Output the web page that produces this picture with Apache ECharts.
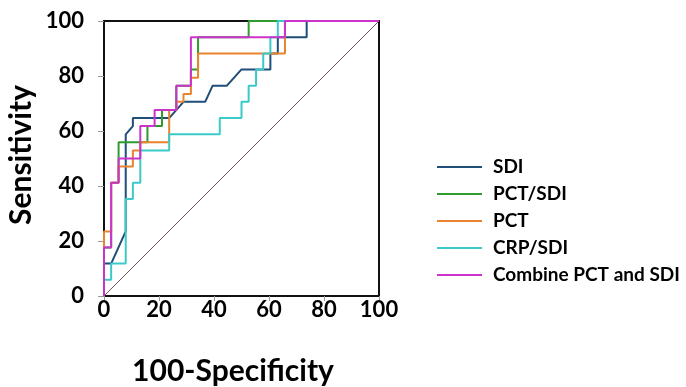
<!DOCTYPE html>
<html>
<head>
<meta charset="utf-8">
<script src="https://cdn.jsdelivr.net/npm/echarts@6/dist/echarts.min.js"></script>
<style>
  html, body { margin: 0; padding: 0; background: #fff; }
  #chart { width: 686px; height: 387px; }
</style>
</head>
<body>
<div id="chart"></div>
<script>
// ROC curves: [100-specificity, sensitivity]
const sdi = [
  [0, 0], [0, 11.8], [2.6, 11.8], [7.9, 23.5], [7.9, 58.8], [10.5, 61.8], [10.5, 64.7],
  [23.7, 64.7], [28.9, 70.6], [36.8, 70.6], [39.5, 76.5], [44.7, 76.5], [50, 82.4],
  [60.5, 82.4], [60.5, 88.2], [63.2, 88.2], [63.2, 94.1], [73.7, 94.1], [73.7, 100], [100, 100]
];
const pctSdi = [
  [0, 0], [0, 17.6], [2.6, 17.6], [2.6, 41.2], [5.3, 41.2], [5.3, 55.9], [15.8, 55.9],
  [15.8, 61.8], [21.1, 61.8], [21.1, 67.6], [26.3, 67.6], [26.3, 76.5], [31.6, 76.5],
  [31.6, 82.4], [34.2, 82.4], [34.2, 94.1], [52.6, 94.1], [52.6, 100], [100, 100]
];
const pct = [
  [0, 0], [0, 23.5], [2.6, 23.5], [2.6, 41.2], [5.3, 41.2], [5.3, 47.1], [10.5, 47.1],
  [10.5, 52.9], [13.2, 52.9], [13.2, 55.9], [23.7, 55.9], [23.7, 67.6], [26.3, 67.6],
  [26.3, 70.6], [28.9, 70.6], [28.9, 73.5], [31.6, 73.5], [31.6, 79.4], [34.2, 79.4],
  [34.2, 88.2], [65.8, 88.2], [65.8, 100], [100, 100]
];
const crpSdi = [
  [0, 0], [0, 5.9], [2.6, 5.9], [2.6, 11.8], [7.9, 11.8], [7.9, 35.3], [10.5, 35.3],
  [10.5, 41.2], [13.2, 41.2], [13.2, 52.9], [23.7, 52.9], [23.7, 58.8], [42.1, 58.8],
  [42.1, 64.7], [50, 64.7], [50, 70.6], [52.6, 70.6], [52.6, 76.5], [55.3, 76.5],
  [55.3, 82.4], [57.9, 82.4], [57.9, 88.2], [60.5, 88.2], [60.5, 94.1], [63.2, 94.1],
  [63.2, 100], [100, 100]
];
const combine = [
  [0, 0], [0, 17.6], [2.6, 17.6], [2.6, 41.2], [5.3, 41.2], [5.3, 50], [13.2, 50],
  [13.2, 61.8], [18.4, 61.8], [18.4, 67.6], [26.3, 67.6], [26.3, 76.5], [31.6, 76.5],
  [31.6, 94.1], [65.8, 94.1], [65.8, 100], [100, 100]
];
const reference = [[0, 0], [100, 100]];

const seriesNames = ["SDI", "PCT/SDI", "PCT", "CRP/SDI", "Combine PCT and SDI"];
const seriesColors = ["#1F4E79", "#2E9B2E", "#E8832E", "#3CC9C9", "#CC33CC"];
const seriesData = [sdi, pctSdi, pct, crpSdi, combine];
const ticks = [0, 20, 40, 60, 80, 100];

const font = "Lato";
const chart = echarts.init(document.getElementById("chart"), null, { renderer: "canvas" });

const lines = seriesNames.map((name, i) => ({
  name: name,
  type: "line",
  data: seriesData[i],
  symbol: "none",
  lineStyle: { color: seriesColors[i], width: 2 },
  itemStyle: { color: seriesColors[i] },
  z: 3 + i,
  animation: false
}));

const option = {
  backgroundColor: "#ffffff",
  animation: false,
  grid: {
    left: 104, top: 21, width: 275, height: 275,
    outerBoundsMode: "none",
    show: true, borderColor: "#111", borderWidth: 2, backgroundColor: "transparent"
  },
  legend: {
    data: seriesNames,
    orient: "vertical",
    left: 432,
    top: 152,
    icon: "rect",
    itemWidth: 45,
    itemHeight: 2,
    itemGap: 7,
    textStyle: { fontFamily: font, fontWeight: "bold", fontSize: 19, color: "#000", padding: [0, 0, 0, 6], lineHeight: 20 }
  },
  xAxis: {
    type: "value", min: 0, max: 100, interval: 20,
    name: "100-Specificity", nameLocation: "middle", nameGap: 60,
    nameTextStyle: { fontFamily: font, fontWeight: "bold", fontSize: 30, color: "#000", padding: [0, 17, 0, 0] },
    axisLine: { show: true, lineStyle: { color: "#111", width: 2 } },
    axisTick: { show: true, length: 5, lineStyle: { color: "#999" } },
    axisLabel: { fontFamily: font, fontWeight: "bold", fontSize: 22, color: "#000", margin: 3,
      formatter: v => ticks.includes(v) ? String(v) : "" },
    splitLine: { show: false }
  },
  yAxis: {
    type: "value", min: 0, max: 100, interval: 20,
    name: "Sensitivity", nameLocation: "middle", nameGap: 68,
    nameTextStyle: { fontFamily: font, fontWeight: "bold", fontSize: 30, color: "#000", padding: [0, 0, 0, 7] },
    axisLine: { show: true, lineStyle: { color: "#111", width: 2 } },
    axisTick: { show: true, length: 6, lineStyle: { color: "#999" } },
    axisLabel: { fontFamily: font, fontWeight: "bold", fontSize: 22, color: "#000", margin: 20,
      formatter: v => ticks.includes(v) ? String(v) : "" },
    splitLine: { show: false }
  },
  series: [
    {
      name: "reference",
      type: "line",
      data: reference,
      symbol: "none",
      lineStyle: { color: "#7A5555", width: 1 },
      z: 2,
      silent: true
    }
  ].concat(lines)
};

chart.setOption(option);
</script>
</body>
</html>
